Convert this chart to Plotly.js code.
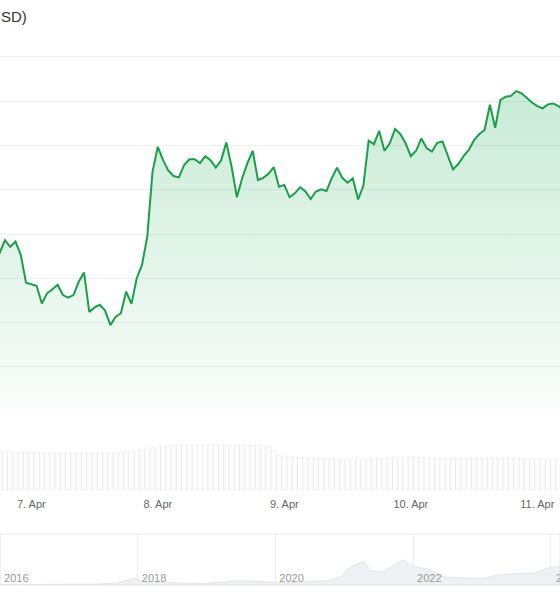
<!DOCTYPE html>
<html>
<head>
<meta charset="utf-8">
<script src="https://cdn.plot.ly/plotly-3.0.1.min.js"></script>
<style>
  html, body { margin: 0; padding: 0; background: #ffffff; }
  #chart { width: 560px; height: 600px; }
</style>
</head>
<body>
<div id="chart"></div>
<script>
// ---- Data ----
// Hourly prices, first point at 6 Apr 17:00 (hour -7 relative to 7 Apr 00:00)
const priceFirstHour = -7;
const priceUSD = [
  77370,77570,77860,77710,77830,77530,76900,
  76870,76830,76430,76660,76750,76850,76620,76560,76620,76920,
  77130,76240,76340,76400,76270,75940,76130,76210,76700,76420,
  77000,77300,77940,79410,79970,79670,79430,79310,79280,79560,
  79690,79690,79600,79760,79670,79500,79660,80070,79520,78830,
  79260,79600,79880,79220,79270,79360,79510,79070,79110,78830,
  78920,79060,78960,78790,78960,79010,78970,79260,79500,79270,
  79160,79260,78780,79090,80110,80030,80330,79880,80050,80370,
  80260,80050,79760,79880,80160,79940,79860,80060,80090,79790,
  79460,79580,79760,79900,80120,80260,80350,80920,80400,81030,
  81100,81120,81230,81180,81070,80970,80890,80840,80930,80950,
  80890,80800
];
// Hourly volume (millions USD), first bar at hour -6
const volumeFirstHour = -6;
const volumeM = [
  760,762,760,758,756,754,
  752,750,748,745,742,740,
  738,736,735,735,736,738,
  740,742,745,748,752,756,
  760,768,780,800,825,850,
  870,882,892,898,902,905,
  906,906,905,904,903,902,
  900,900,898,896,895,893,
  890,888,885,870,800,700,
  670,660,655,650,645,640,
  636,632,628,625,622,620,
  618,616,614,612,612,615,
  622,635,650,658,662,662,
  660,655,650,646,642,640,
  640,638,636,636,635,635,
  636,638,640,640,642,642,
  640,638,636,634,630,628,
  625,622,620,618,615
];
// Navigator (long-term history)
const navDates = [
  '2015-06-01','2016-01-01','2016-07-01','2017-01-01','2017-06-01','2017-09-01',
  '2017-12-15','2018-02-01','2018-06-01','2018-12-15','2019-06-25','2019-12-01',
  '2020-03-15','2020-07-01','2020-10-01','2020-12-20','2021-01-10','2021-02-20',
  '2021-04-14','2021-05-20','2021-07-20','2021-09-05','2021-11-10','2022-01-01',
  '2022-03-28','2022-06-20','2022-11-10','2023-01-01','2023-04-10','2023-07-10',
  '2023-10-15','2023-12-10','2024-02-20','2024-03-14'
];
const navPrice = [
  250,430,650,1000,2500,4300,
  17000,9000,6500,3500,11000,7300,
  5500,9200,10800,23000,38000,50000,
  60000,37000,33000,46000,64000,47000,
  40000,20000,16500,16600,27000,28500,
  31000,43000,47000,60000
];
const titleText = 'SD)';
const lastNavYearLabel = '2024';
const lastNavYearDate = '2024-01-01';
const dayTickFormat = '%-d. %b';

// ---- Build ----
const base = Date.UTC(2025, 3, 7, 0, 0, 0);
const H = 3600000;
const priceX = priceUSD.map((v, i) => base + (priceFirstHour + i) * H);
const volX = volumeM.map((v, i) => base + (volumeFirstHour + i) * H);

const fontFam = '"Liberation Sans", Arial, sans-serif';
const green = '#1a9f48';

const traces = [
  {
    type: 'bar', x: volX, y: volumeM, xaxis: 'x', yaxis: 'y2',
    marker: { color: 'rgba(0,0,0,0.008)', line: { color: 'rgba(0,0,0,0.045)', width: 1 } },
    hoverinfo: 'skip', showlegend: false
  },
  {
    type: 'scatter', mode: 'lines', x: priceX, y: priceUSD, xaxis: 'x', yaxis: 'y',
    line: { color: green, width: 2 },
    fill: 'tozeroy',
    fillgradient: {
      type: 'vertical', start: 74000, stop: 81300,
      colorscale: [[0, 'rgba(26,170,80,0.02)'], [1, 'rgba(26,170,80,0.24)']]
    },
    hoverinfo: 'skip', showlegend: false
  },
  {
    type: 'scatter', mode: 'lines', x: navDates, y: navPrice, xaxis: 'x2', yaxis: 'y3',
    line: { color: '#e3e6ea', width: 1 }, fill: 'tozeroy', fillcolor: '#eef0f3',
    hoverinfo: 'skip', showlegend: false
  }
];

const layout = {
  width: 560, height: 600,
  margin: { l: 0, r: 0, t: 0, b: 0 },
  paper_bgcolor: '#ffffff', plot_bgcolor: 'rgba(0,0,0,0)',
  font: { family: fontFam, color: '#666666', size: 11 },
  bargap: 0,
  showlegend: false,
  xaxis: {
    type: 'date', anchor: 'y2', domain: [0, 1],
    range: [base - 5.938 * H, base + 100.30 * H],
    tick0: base, dtick: 86400000, tickformat: dayTickFormat,
    showgrid: false, zeroline: false, showline: false, ticks: '',
    ticklabelstandoff: 6,
    tickfont: { size: 11, color: '#666666', family: fontFam }
  },
  yaxis: {
    domain: [1 - 411 / 600, 1 - 35 / 600], anchor: 'x',
    range: [74000, 82497], dtick: 1000, tick0: 74000,
    showticklabels: false, showgrid: true, gridcolor: '#efefef', gridwidth: 1,
    zeroline: false, showline: false
  },
  yaxis2: {
    domain: [1 - 490 / 600, 1 - 440 / 600], anchor: 'x',
    range: [0, 1000], showticklabels: false, showgrid: false, zeroline: false
  },
  xaxis2: {
    type: 'date', anchor: 'y3', domain: [0, 1],
    range: ['2015-12-31 12:00', '2024-02-20'],
    tick0: '2016-01-01', dtick: 'M24', tickformat: '%Y',
    showgrid: true, gridcolor: '#ececec', zeroline: false, showline: false, ticks: '',
    ticklabelposition: 'inside right', ticklabelshift: 4, ticklabelstandoff: -5,
    tickfont: { size: 11, color: '#999999', family: fontFam }
  },
  yaxis3: {
    domain: [1 - 585 / 600, 1 - 534 / 600], anchor: 'x2',
    range: [0, 130000], showticklabels: false, showgrid: false, zeroline: false
  },
  shapes: [
    { type: 'rect', xref: 'paper', yref: 'paper', x0: 0, x1: 1,
      y0: 1 - 585 / 600, y1: 1 - 534 / 600,
      line: { color: '#e6e6e6', width: 1 }, fillcolor: 'rgba(0,0,0,0)' }
  ],
  annotations: [
    { text: titleText, xref: 'paper', yref: 'paper', x: 0, y: 1 - 17 / 600,
      xanchor: 'left', yanchor: 'middle', xshift: -1, showarrow: false,
      font: { size: 15, color: '#333333', family: fontFam } },
    { text: lastNavYearLabel, xref: 'x2', yref: 'paper', x: lastNavYearDate, y: 1 - 578 / 600,
      xanchor: 'left', yanchor: 'middle', xshift: 3, showarrow: false,
      font: { size: 11, color: '#999999', family: fontFam } }
  ]
};

Plotly.newPlot('chart', traces, layout, { displayModeBar: false, staticPlot: true });
</script>
</body>
</html>
